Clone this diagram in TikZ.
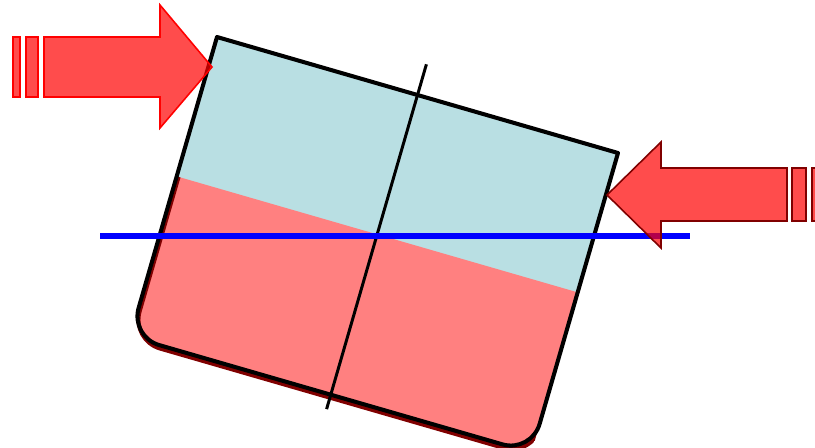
\documentclass[tikz,border=0pt]{standalone}
\usepackage{xcolor}
\usepackage{tikz}
\usetikzlibrary{calc}
\definecolor{deck}{RGB}{185,223,227}

\begin{document}
\begin{tikzpicture}[x=0.02cm, y=-0.02cm,
  hull/.style={line width=2.3pt, line join=round},
  keel/.style={line width=1.7pt},
  water/.style={draw=blue, line width=3.4pt},
  gust/.style={fill=red, fill opacity=0.7, line width=0.9pt, line join=miter}]
  \useasboundingbox (0,0) rectangle (815,447);
  % heeled hull
  \coordinate (tl) at (217,37);
  \coordinate (tr) at (618,153);
  \coordinate (br) at ($(tr)+(-86.7,299.7)$);
  \coordinate (bl) at ($(tl)+(-86.7,299.7)$);
  \coordinate (wl) at ($(tl)!0.465!(bl)$);
  \coordinate (wr) at ($(tr)!0.465!(br)$);
  \coordinate (mast) at ($(tl)!0.5!(tr)+(8.9,-30.7)$);
  \coordinate (foot) at ($(tl)!0.5!(tr)+(-90.9,314.1)$);
  \coordinate (sea1) at (100,236);
  \coordinate (sea2) at (690,236);
  \fill[deck] (tl) -- (tr) [rounded corners=0.6cm] -- (br) -- (bl) [sharp corners] -- cycle;
  \begin{scope}
    \clip (wl) -- (wr) -- ($(wr)!3!(br)$) -- ($(wl)!3!(bl)$) -- cycle;
    \fill[red!50] (tl) -- (tr) [rounded corners=0.6cm] -- (br) -- (bl) [sharp corners] -- cycle;
    \draw[hull, red!50!black, transform canvas={xshift=0.02cm, yshift=-0.07cm}] (tl) -- (tr) [rounded corners=0.6cm] -- (br) -- (bl) [sharp corners] -- cycle;
  \end{scope}
  \draw[hull] (tl) -- (tr) [rounded corners=0.6cm] -- (br) -- (bl) [sharp corners] -- cycle;
  \draw[keel] (mast) -- (foot);
  \draw[water] (sea1) -- (sea2);
  % wind from the left
  \draw[gust, draw=red] (44,37) -- (160,37) -- (160,5) -- (212,67) -- (160,128) -- (160,97) -- (44,97) -- cycle;
  \draw[gust, draw=red] (13,37) rectangle (20,97);
  \draw[gust, draw=red] (26,37) rectangle (38,97);
  % wind from the right
  \draw[gust, draw=red!50!black] (787,168) -- (661,168) -- (661,142) -- (607,195) -- (661,248) -- (661,221) -- (787,221) -- cycle;
  \draw[gust, draw=red!50!black] (792,168) rectangle (806,221);
  \draw[gust, draw=red!50!black] (812,168) rectangle (830,221);
\end{tikzpicture}
\end{document}
